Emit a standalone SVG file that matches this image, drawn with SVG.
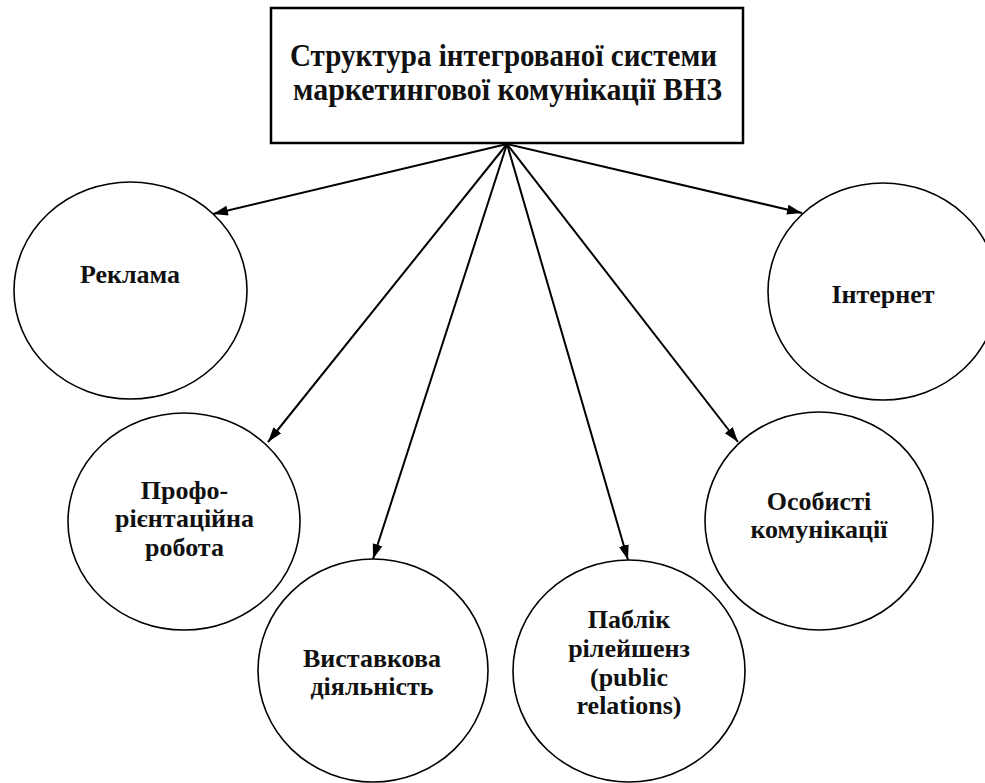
<svg xmlns="http://www.w3.org/2000/svg" width="985" height="783" viewBox="0 0 985 783">
<style>
.node{fill:#fff;stroke:#000;stroke-width:1.6}
.t{font-family:"Liberation Serif","Times New Roman",serif;font-weight:bold;font-size:26px;fill:#111;text-anchor:middle}
.title{font-size:32px}
.c{stroke:#000;stroke-width:2;fill:none;marker-end:url(#ah)}
</style>
<defs>
<marker id="ah" markerUnits="userSpaceOnUse" markerWidth="16" markerHeight="12" refX="15" refY="5" orient="auto">
<path d="M0,0 L15,5 L0,10 z" fill="#000"/>
</marker>
</defs>
<rect width="985" height="783" fill="#fff"/>
<g id="connectors">
<line class="c" x1="507" y1="144" x2="213" y2="214"/>
<line class="c" x1="507" y1="144" x2="802" y2="213"/>
<line class="c" x1="507" y1="144" x2="268" y2="442"/>
<line class="c" x1="507" y1="144" x2="373" y2="559"/>
<line class="c" x1="507" y1="144" x2="628" y2="560"/>
<line class="c" x1="507" y1="144" x2="738" y2="442"/>
</g>
<g id="title">
<rect x="271" y="8" width="472" height="135" fill="#fff" stroke="#000" stroke-width="2.5"/>
<text class="t title" x="503.5" y="66" textLength="427" lengthAdjust="spacingAndGlyphs">Структура інтегрованої системи</text>
<text class="t title" x="507.5" y="100" textLength="429" lengthAdjust="spacingAndGlyphs">маркетингової комунікації ВНЗ</text>
</g>
<g id="reklama">
<ellipse class="node" cx="130.5" cy="290.5" rx="116.5" ry="108.5"/>
<text class="t" x="130" y="283">Реклама</text>
</g>
<g id="internet">
<ellipse class="node" cx="883" cy="291.5" rx="115" ry="108.5"/>
<text class="t" x="883" y="303">Інтернет</text>
</g>
<g id="proforientation">
<ellipse class="node" cx="184" cy="521.5" rx="116" ry="108.5"/>
<text class="t" x="184.5" y="499">Профо-</text>
<text class="t" x="184.5" y="527">рієнтаційна</text>
<text class="t" x="184.5" y="556">робота</text>
</g>
<g id="exhibition">
<ellipse class="node" cx="373" cy="670.5" rx="115" ry="111.5"/>
<text class="t" x="372" y="667">Виставкова</text>
<text class="t" x="372" y="695">діяльність</text>
</g>
<g id="pr">
<ellipse class="node" cx="629" cy="671" rx="116" ry="111"/>
<text class="t" x="629" y="628">Паблік</text>
<text class="t" x="629" y="657">рілейшенз</text>
<text class="t" x="629" y="686">(public</text>
<text class="t" x="629" y="714">relations)</text>
</g>
<g id="personal">
<ellipse class="node" cx="819" cy="521" rx="114" ry="109"/>
<text class="t" x="819" y="510">Особисті</text>
<text class="t" x="819" y="538">комунікації</text>
</g>
</svg>
